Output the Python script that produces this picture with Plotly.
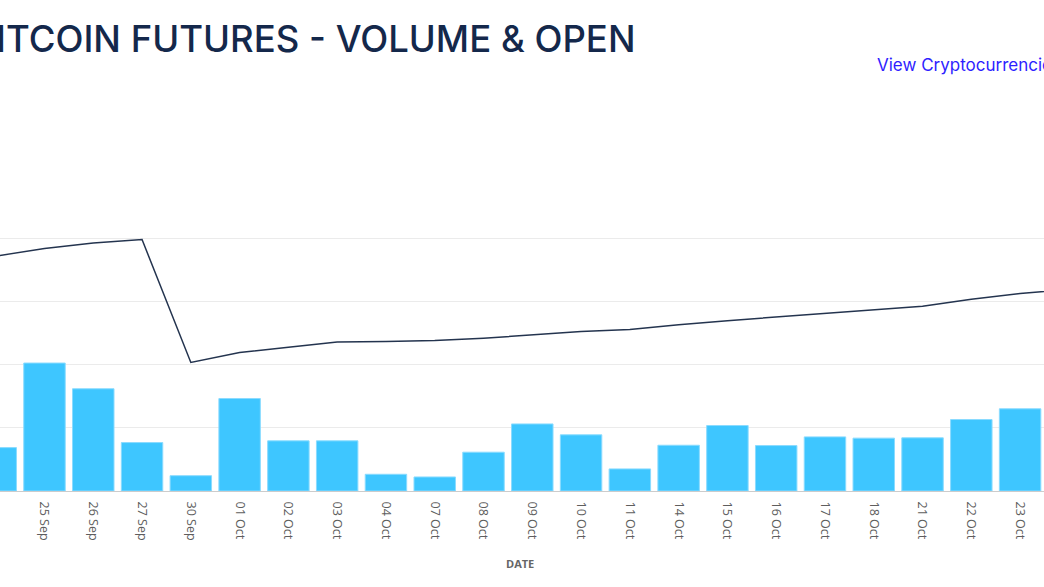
import plotly.graph_objects as go

# ---- data ----
dates = ["24 Sep", "25 Sep", "26 Sep", "27 Sep", "30 Sep", "01 Oct", "02 Oct", "03 Oct",
         "04 Oct", "07 Oct", "08 Oct", "09 Oct", "10 Oct", "11 Oct", "14 Oct", "15 Oct",
         "16 Oct", "17 Oct", "18 Oct", "21 Oct", "22 Oct", "23 Oct", "24 Oct"]
volume = [1375, 4055, 3240, 1535, 485, 2930, 1590, 1590,
          530, 445, 1230, 2125, 1780, 700, 1450, 2075,
          1440, 1715, 1675, 1685, 2265, 2605, None]
open_interest = [7445, 7683, 7858, 7969, 4073, 4391, 4556, 4721,
                 4737, 4766, 4842, 4937, 5055, 5118, 5271, 5398,
                 5509, 5620, 5747, 5858, 6080, 6255, 6398]
y_ticks = [0, 2000, 4000, 6000, 8000]

W, H = 1044, 587
M_T, M_B = 207, 96
PH = H - M_T - M_B

fig = go.Figure()
fig.add_trace(go.Bar(
    x=dates, y=volume, name="Volume",
    marker=dict(color="#3EC6FF", line=dict(color="#8ADBFF", width=1)),
    hoverinfo="x+y",
))
fig.add_trace(go.Scatter(
    x=dates, y=open_interest, name="Open Interest", mode="lines",
    line=dict(color="#24344F", width=1.5),
))

fig.update_layout(
    width=W, height=H,
    margin=dict(l=0, r=0, t=M_T, b=M_B, pad=0),
    paper_bgcolor="white", plot_bgcolor="white",
    showlegend=False, bargap=0.15,
    xaxis=dict(
        type="category", range=[0.088, 21.49],
        tickangle=90, showgrid=False, zeroline=False,
        showline=True, linecolor="#CCCCCC", linewidth=1,
        ticks="", ticklabelstandoff=7,
        tickfont=dict(family="Open Sans", size=12.5, color="#5E5E5E"),
    ),
    yaxis=dict(
        range=[0, 9000], tickvals=y_ticks, showticklabels=False,
        showgrid=True, gridcolor="#EBEBEB", gridwidth=1,
        zeroline=False, showline=False,
    ),
    annotations=[
        dict(text="BITCOIN FUTURES - VOLUME &amp; OPEN", xref="paper", yref="paper",
             x=638 / W, xanchor="right", y=1 + (M_T - 39) / PH, yanchor="middle",
             showarrow=False,
             font=dict(family="Inter", size=36.5, color="#14284B", weight=500)),
        dict(text="View Cryptocurrencies", xref="paper", yref="paper",
             x=875 / W, xanchor="left", y=1 + (M_T - 65) / PH, yanchor="middle",
             showarrow=False,
             font=dict(family="Inter", size=17, color="#2E1EFF")),
        dict(text="<b>DATE</b>", xref="paper", yref="paper",
             x=520 / W, xanchor="center", y=-(563 - (H - M_B)) / PH, yanchor="middle",
             showarrow=False,
             font=dict(family="Open Sans", size=11, color="#666666")),
    ],
)

fig.write_html("out.html", config={"displayModeBar": False},
               post_script="document.body.style.margin='0';")
